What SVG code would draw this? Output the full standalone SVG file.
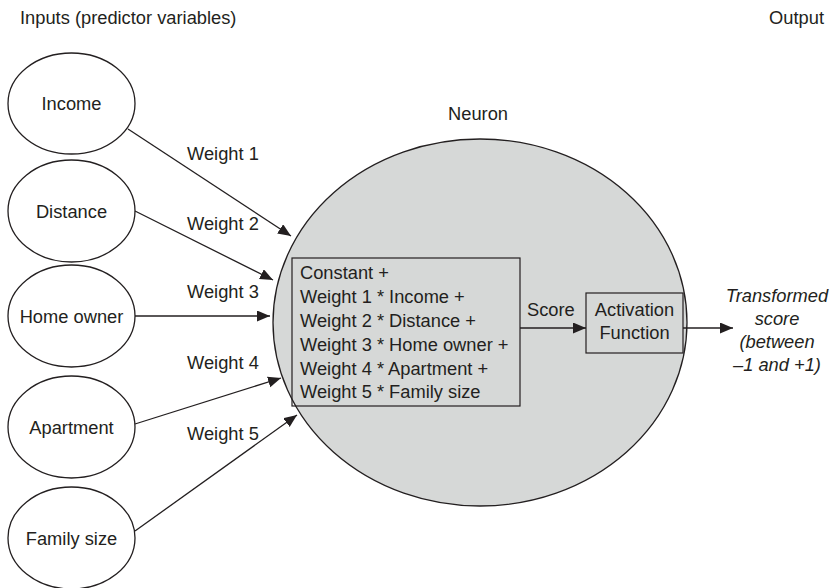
<svg xmlns="http://www.w3.org/2000/svg" width="834" height="588" viewBox="0 0 834 588">
  <style>
    text { font-family: "Liberation Sans", Arial, sans-serif; font-size: 18.3px; fill: #231f20; }
    .mid { text-anchor: middle; }
    .end { text-anchor: end; }
    .it { font-style: italic; }
    .input { fill: #ffffff; stroke: #231f20; stroke-width: 1.3; }
    .neuron { fill: #d6d8d7; stroke: #231f20; stroke-width: 1.3; }
    .box { fill: none; stroke: #231f20; stroke-width: 1.2; }
    .edge { fill: none; stroke: #231f20; stroke-width: 1.3; marker-end: url(#arrow); }
  </style>
  <defs>
    <marker id="arrow" markerUnits="userSpaceOnUse" markerWidth="14" markerHeight="12" refX="13" refY="5.5" orient="auto">
      <path d="M0,0 L13,5.5 L0,11 z" fill="#231f20"/>
    </marker>
  </defs>

  <rect width="834" height="588" fill="#ffffff"/>

  <!-- headings -->
  <text x="20" y="24">Inputs (predictor variables)</text>
  <text class="end" x="824" y="24">Output</text>

  <!-- neuron body -->
  <g id="neuron">
    <ellipse class="neuron" cx="480" cy="322.5" rx="207" ry="183.5"/>
    <text class="mid" x="478" y="120">Neuron</text>
  </g>

  <!-- weighted sum -->
  <g id="sum">
    <rect class="box" x="292" y="258" width="228" height="148"/>
    <text x="300" y="279">Constant +</text>
    <text x="300" y="303">Weight 1 * Income +</text>
    <text x="300" y="327">Weight 2 * Distance +</text>
    <text x="300" y="351">Weight 3 * Home owner +</text>
    <text x="300" y="375">Weight 4 * Apartment +</text>
    <text x="300" y="398">Weight 5 * Family size</text>
  </g>

  <!-- activation -->
  <g id="activation">
    <rect class="box" x="586" y="293" width="97" height="60"/>
    <text class="mid" x="634.5" y="316">Activation</text>
    <text class="mid" x="634.5" y="339">Function</text>
  </g>

  <!-- inputs -->
  <g id="income">
    <ellipse class="input" cx="71.5" cy="103.5" rx="63.5" ry="50.5"/>
    <text class="mid" x="71.5" y="110">Income</text>
  </g>
  <g id="distance">
    <ellipse class="input" cx="71.5" cy="211" rx="63.5" ry="51"/>
    <text class="mid" x="71.5" y="217.5">Distance</text>
  </g>
  <g id="home-owner">
    <ellipse class="input" cx="71.5" cy="316" rx="63.5" ry="51"/>
    <text class="mid" x="71.5" y="322.5">Home owner</text>
  </g>
  <g id="apartment">
    <ellipse class="input" cx="71.5" cy="427" rx="63.5" ry="51"/>
    <text class="mid" x="71.5" y="433.5">Apartment</text>
  </g>
  <g id="family-size">
    <ellipse class="input" cx="71.5" cy="538" rx="63.5" ry="51"/>
    <text class="mid" x="71.5" y="544.5">Family size</text>
  </g>

  <!-- output -->
  <g id="output">
    <text class="mid it" x="777" y="302">Transformed</text>
    <text class="mid it" x="777" y="325">score</text>
    <text class="mid it" x="777" y="348">(between</text>
    <text class="mid it" x="777" y="371">–1 and +1)</text>
  </g>

  <!-- connectors -->
  <g id="connectors">
    <line class="edge" x1="128" y1="129" x2="291" y2="236"/>
    <line class="edge" x1="135" y1="211" x2="273" y2="280"/>
    <line class="edge" x1="135" y1="316" x2="270" y2="316"/>
    <line class="edge" x1="135" y1="424" x2="281" y2="378"/>
    <line class="edge" x1="135" y1="531" x2="297" y2="415"/>
    <line class="edge" x1="520" y1="328" x2="586" y2="328"/>
    <line class="edge" x1="683" y1="328" x2="733" y2="328"/>
    <text x="187" y="160">Weight 1</text>
    <text x="187" y="230">Weight 2</text>
    <text x="187" y="298">Weight 3</text>
    <text x="187" y="369">Weight 4</text>
    <text x="187" y="440">Weight 5</text>
    <text x="527" y="316">Score</text>
  </g>
</svg>
